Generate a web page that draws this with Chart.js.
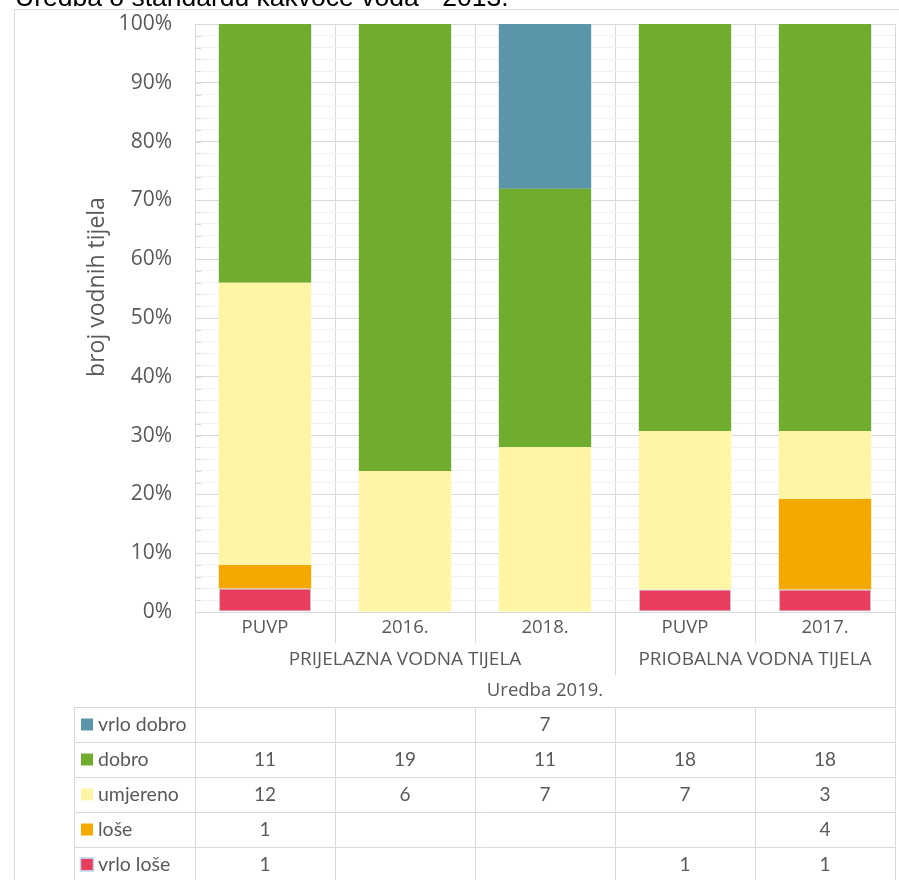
<!DOCTYPE html>
<html>
<head>
<meta charset="utf-8">
<script src="https://cdn.jsdelivr.net/npm/chart.js@4.4.1/dist/chart.umd.min.js"></script>
<style>
  html, body { margin: 0; padding: 0; background: #fff; }
  #wrap { position: relative; width: 899px; height: 880px; }
</style>
</head>
<body>
<div id="wrap"><canvas id="chart" width="899" height="880"></canvas></div>
<script>
// water body counts per status class
const categories = ['PUVP', '2016.', '2018.', 'PUVP', '2017.'];
const groups = [
    { label: 'PRIJELAZNA VODNA TIJELA', from: 0, to: 2 },
    { label: 'PRIOBALNA VODNA TIJELA', from: 3, to: 4 }
];
const groupTitle = 'Uredba 2019.';
const vrloDobro = [null, null, 7, null, null];
const dobro = [11, 19, 11, 18, 18];
const umjereno = [12, 6, 7, 7, 3];
const lose = [1, null, null, null, 4];
const vrloLose = [1, null, null, 1, 1];
const yMajorStep = 10;
const yMinorStep = 2;
const heading = 'Uredba o standardu kakvoće voda - 2013.';
const axisTitle = 'broj vodnih tijela';

const FONT = '"Open Sans", sans-serif';
const TABLE_FONT = 'Lato, "Open Sans", sans-serif';
const LINE = '#d9d9d9';
const TEXT = '#595959';

const series = [
    { name: 'vrlo loše', counts: vrloLose, color: '#e83d5d', border: '#bdd7ee' },
    { name: 'loše', counts: lose, color: '#f5a800' },
    { name: 'umjereno', counts: umjereno, color: '#fff5a5' },
    { name: 'dobro', counts: dobro, color: '#70ad2f' },
    { name: 'vrlo dobro', counts: vrloDobro, color: '#5b95a9' }
];

const totals = categories.map((c, i) => series.reduce((s, d) => s + (d.counts[i] || 0), 0));

const datasets = series.map(s => ({
    label: s.name,
    counts: s.counts,
    data: s.counts.map((v, i) => (v == null ? null : v / totals[i] * 100)),
    backgroundColor: s.color,
    borderColor: s.border || s.color,
    borderWidth: s.border ? 1 : 0,
    borderSkipped: false
}));

function hline(ctx, x1, x2, y) {
    ctx.beginPath();
    ctx.moveTo(x1, Math.round(y) + 0.5);
    ctx.lineTo(x2, Math.round(y) + 0.5);
    ctx.stroke();
}

function vline(ctx, x, y1, y2) {
    ctx.beginPath();
    ctx.moveTo(Math.round(x) + 0.5, y1);
    ctx.lineTo(Math.round(x) + 0.5, y2);
    ctx.stroke();
}

const frame = {
    id: 'frame',
    afterDraw(chart) {
        const { ctx, chartArea, scales: { x, y } } = chart;
        const { left, right, bottom } = chartArea;
        const half = (x.getPixelForValue(1) - x.getPixelForValue(0)) / 2;
        const edge = i => x.getPixelForValue(i) - half;
        const tableTop = bottom + 95;
        const rowH = 35;
        const tableLeft = 74;
        const H = chart.height;

        ctx.save();
        ctx.lineWidth = 1;
        ctx.strokeStyle = LINE;

        // outer frame
        hline(ctx, 14, chart.width, 9);
        vline(ctx, 14, 9, H);

        // minor tick marks inside the value axis
        for (let v = 0; v <= 100; v += yMinorStep) {
            hline(ctx, left, left + 6, y.getPixelForValue(v));
        }

        // separators under the category labels
        vline(ctx, left, bottom, H);
        vline(ctx, right, bottom, H);
        for (let i = 1; i < categories.length; i++) {
            const isGroupEdge = groups.some(g => g.from === i);
            vline(ctx, edge(i), bottom, bottom + (isGroupEdge ? 63 : 31));
        }

        // data table grid
        const rows = datasets.slice().reverse();
        for (let r = 0; r <= rows.length; r++) {
            hline(ctx, tableLeft, right, tableTop + r * rowH);
        }
        vline(ctx, tableLeft, tableTop, H);
        for (let i = 1; i < categories.length; i++) {
            vline(ctx, edge(i), tableTop, H);
        }

        // group labels
        ctx.fillStyle = TEXT;
        ctx.textAlign = 'center';
        ctx.textBaseline = 'middle';
        ctx.font = '19px ' + FONT;
        groups.forEach(g => {
            const cx = (edge(g.from) + edge(g.to + 1)) / 2;
            ctx.fillText(g.label, cx, bottom + 48);
        });
        ctx.font = '18.5px ' + FONT;
        ctx.fillText(groupTitle, (left + right) / 2, bottom + 79);

        // table rows: legend key, name, counts
        rows.forEach((ds, r) => {
            const cy = tableTop + r * rowH + rowH / 2;
            ctx.fillStyle = ds.backgroundColor;
            ctx.fillRect(81, cy - 6, 12, 12);
            if (ds.borderWidth) {
                ctx.strokeStyle = ds.borderColor;
                ctx.lineWidth = 1.5;
                ctx.strokeRect(80.5, cy - 6.5, 13, 13);
            }
            ctx.fillStyle = TEXT;
            ctx.textAlign = 'left';
            ctx.font = '19.5px ' + TABLE_FONT;
            ctx.fillText(ds.label, 98, cy);
            ctx.textAlign = 'center';
            ctx.font = '19px ' + TABLE_FONT;
            ds.counts.forEach((v, i) => {
                if (v != null) ctx.fillText(String(v), x.getPixelForValue(i), cy);
            });
        });

        // value axis title
        ctx.save();
        ctx.translate(97, 287);
        ctx.rotate(-Math.PI / 2);
        ctx.font = '23px ' + FONT;
        ctx.fillStyle = TEXT;
        ctx.textAlign = 'center';
        ctx.fillText(axisTitle, 0, 0);
        ctx.restore();

        // heading, clipped by the top of the page
        ctx.fillStyle = '#000';
        ctx.textAlign = 'left';
        ctx.textBaseline = 'alphabetic';
        ctx.font = '26.5px "Liberation Sans", Arial, sans-serif';
        ctx.fillText(heading, 15, 6);

        ctx.restore();
    }
};

new Chart(document.getElementById('chart'), {
    type: 'bar',
    data: { labels: categories, datasets: datasets },
    options: {
        responsive: false,
        animation: false,
        layout: { padding: { top: 24, right: 4, left: 0, bottom: 0 } },
        plugins: {
            legend: { display: false },
            tooltip: { enabled: false }
        },
        datasets: { bar: { categoryPercentage: 1, barPercentage: 0.66 } },
        scales: {
            x: {
                stacked: true,
                grid: { color: LINE, drawTicks: false, offset: true },
                border: { color: LINE },
                ticks: { color: TEXT, font: { family: FONT, size: 18.5 }, padding: 5 },
                afterFit: s => { s.height = 268; }
            },
            y: {
                stacked: true,
                min: 0,
                max: 100,
                grid: {
                    color: c => (c.tick && c.tick.value % yMajorStep === 0 ? LINE : '#f2f2f2'),
                    drawTicks: false
                },
                border: { color: LINE },
                ticks: {
                    stepSize: yMinorStep,
                    autoSkip: false,
                    color: TEXT,
                    font: { family: FONT, size: 21 },
                    padding: 23,
                    callback: v => (v % yMajorStep === 0 ? v + '%' : '')
                },
                afterFit: s => {
                    s.width = 195;
                    s.paddingTop = 0;
                    s.paddingBottom = 0;
                }
            }
        }
    },
    plugins: [frame]
});
</script>
</body>
</html>
